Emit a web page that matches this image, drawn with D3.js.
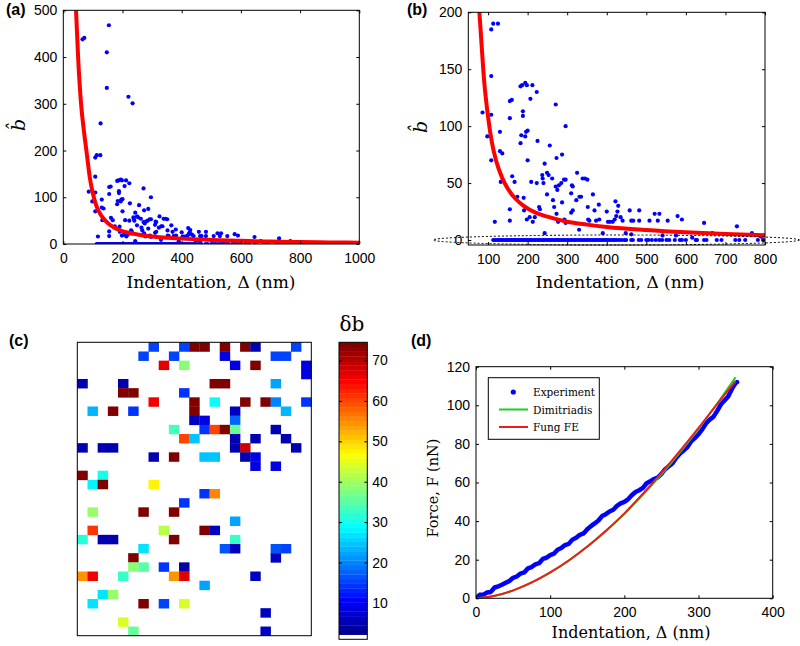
<!DOCTYPE html>
<html>
<head>
<meta charset="utf-8">
<script src="https://cdn.jsdelivr.net/npm/d3@7"></script>
<style>
body { margin: 0; background: #fff; }
svg { display: block; }
.tick text { font-family: "Liberation Sans", Arial, sans-serif; font-size: 14px; fill: #000; }
.tick line { stroke: #000; }
.lbl { font-family: "DejaVu Serif", serif; fill: #000; }
.plab { font-family: "Liberation Sans", Arial, sans-serif; font-weight: bold; font-size: 16px; }
</style>
</head>
<body>
<svg id="fig" width="800" height="646"></svg>
<script>
// ---- panels (a)/(b): b-hat vs indentation, same points, (b) is zoomed in
const bhatPoints = [
    [65,438],[71,441],[154,468],[147,410],[147,334],[126,258],[220,315],[234,301],
    [108,185],[113,190],[125,190],[108,144],[86,112],[98,91],[108,110],[108,70],
    [130,95],[130,78],[136,76],[132,51],[117,16],[155,122],[160,123],[155,107],
    [161,56],[167,51],[155,27],[155,17],[174,38],[182,135],[186,136],[188,113],
    [188,109],[184,92],[182,85],[194,138],[198,136],[196,95],[200,96],[194,91],
    [200,70],[190,37],[191,26],[198,18],[205,20],[212,136],[207,124],[223,130],
    [209,51],[223,50],[225,87],[213,16],[218,20],[229,29],[231,27],[237,57],
    [240,50],[238,54],[243,67],[253,57],[249,59],[249,40],[256,83],[262,54],
    [243,6],[271,119],[264,35],[267,29],[273,72],[271,47],[275,44],[279,48],
    [273,23],[277,16],[287,75],[285,50],[292,53],[296,53],[287,33],[296,100],
    [293,18],[296,15],[310,41],[314,47],[312,48],[310,24],[314,26],[325,59],
    [323,35],[331,38],[335,38],[330,9],[339,54],[345,54],[351,53],[352,29],
    [353,18],[356,17],[365,40],[369,26],[380,31],[381,18],[373,17],[390,6],
    [400,25],[403,16],[408,16],[415,16],[420,18],[422,34],[424,21],[427,25],
    [429,30],[435,20],[440,17],[458,26],[462,17],[467,17],[482,26],[482,17],
    [508,17],[521,23],[533,23],[529,17],[554,17],[579,21],[590,18],[646,15],
    [729,12],[667,6],[767,6],[448,6],[462,5],[541,4],[575,4],[616,2],[790,3],
    // the row of zeros
    [113,0],[118,0],[123,0],[127,0],[131,0],[135,0],[139,0],[144,0],[148,0],[152,0],
    [157,0],[160,0],[165,0],[168,0],[172,0],[176,0],[180,0],[184,0],[188,0],[192,0],
    [196,0],[200,0],[204,0],[208,0],[212,0],[217,0],[221,0],[226,0],[230,0],[235,0],
    [240,0],[244,0],[249,0],[253,0],[258,0],[262,0],[267,0],[271,0],[276,0],[280,0],
    [285,0],[290,0],[294,0],[299,0],[304,0],[309,0],[313,0],[318,0],[322,0],[327,0],
    [332,0],[336,0],[341,0],[345,0],[350,0],[355,0],[360,0],[364,0],[369,0],[374,0],
    [378,0],[383,0],[387,0],[392,0],[397,0],[401,0],[406,0],[411,0],[416,0],[420,0],
    [425,0],[431,0],[437,0],[444,0],[449,0],[462,0],[466,0],[481,0],[487,0],[500,0],
    [505,0],[514,0],[524,0],[533,0],[540,0],[551,0],[558,0],[572,0],[585,0],[590,0],
    [600,0],[625,0],[628,0],[646,0],[652,0],[678,0],[690,0],[725,0],[735,0],[750,0],
    [782,0],[795,0],[812,0],[840,0],[870,0],[905,0]
];
const fitDelta = [43,50,60,70,80,90,100,110,120,135,150,170,190,220,250,300,350,400,500,600,700,800,900,1000];
const fitBhat  = [500,400,300,240,190,140,108,85,70,55,45,36,30,24,20.5,16,13.5,11.5,8.8,6.8,5.3,4.2,3.4,2.8];
const aXTicks = [0,200,400,600,800,1000];
const aYTicks = [0,100,200,300,400,500];
const bXTicks = [100,200,300,400,500,600,700,800];
const bYTicks = [0,50,100,150,200];

// ---- panel (c): map of delta-b, [row, col, value]
const gridCols = 23, gridRows = 32;
const cells = [
    [0,7,15],[0,10,15],[0,11,74],[0,12,74],[0,14,74],[0,16,74],[0,17,5],[0,21,15],
    [1,6,15],[1,9,15],[1,14,9],[1,19,15],[1,20,15],
    [2,8,67],[2,10,38],[2,15,9],[2,17,74],[2,22,9],
    [3,22,9],
    [4,0,5],[4,4,5],[4,13,74],[4,14,74],[4,19,22],
    [5,4,74],[5,5,74],[5,10,14],
    [6,7,66],[6,11,74],[6,13,29],[6,16,74],[6,18,74],[6,19,20],[6,22,14],
    [7,1,23],[7,3,74],[7,5,14],[7,11,74],[7,15,6],[7,20,23],
    [8,11,6],[8,12,8],[8,15,18],
    [9,9,34],[9,12,14],[9,13,60],[9,14,74],[9,15,36],[9,19,5],
    [10,10,60],[10,11,25],[10,15,5],[10,17,5],[10,20,5],
    [11,0,5],[11,2,5],[11,3,5],[11,15,5],[11,16,68],[11,21,5],
    [12,7,5],[12,9,74],[12,12,24],[12,13,24],[12,16,5],[12,17,8],
    [13,17,8],[13,19,8],
    [14,0,74],[14,2,30],
    [15,1,28],[15,2,74],[15,7,47],
    [16,12,14],[16,13,55],
    [17,10,14],
    [18,1,39],[18,6,74],[18,9,74],
    [19,15,22],
    [20,1,61],[20,8,42],[20,12,74],[20,13,6],
    [21,0,32],[21,2,5],[21,3,5],[21,9,74],[21,15,33],
    [22,6,27],[22,14,16],[22,15,6],[22,19,17],[22,20,15],
    [23,5,74],[23,19,6],
    [24,5,38],[24,6,35],[24,8,14],[24,10,4],
    [25,0,54],[25,1,66],[25,4,33],[25,9,54],[25,10,67],[25,17,6],
    [26,12,22],
    [27,2,27],[27,3,39],
    [28,1,27],[28,6,74],[28,8,15],[28,10,44],
    [29,18,6],
    [30,4,44],
    [31,5,36],[31,18,6]
];
const cbTicks = [10,20,30,40,50,60,70];
const cbMin = 1, cbMax = 74.5;

// ---- panel (d): force vs indentation
const expPoints = [
    [0,0],[5,1.8],[10,1.9],[15,3.0],[20,3.3],[25,5.6],[30,6.2],[35,7.0],[40,8.0],[45,9.0],
    [50,10.6],[55,11.3],[60,12.8],[65,13.4],[70,15.5],[75,16.2],[80,17.6],[85,18.2],[90,20.4],[95,21.0],
    [100,22.4],[105,23.1],[110,25.2],[115,26.1],[120,27.6],[125,28.2],[130,30.4],[135,31.4],[140,32.9],[145,33.6],
    [150,35.8],[155,37.4],[160,38.8],[165,40.3],[170,42.6],[175,43.6],[180,45.0],[185,45.9],[190,47.9],[195,49.2],
    [200,50.0],[205,51.3],[210,53.4],[215,55.1],[220,56.0],[225,57.2],[230,59.6],[235,60.6],[240,61.8],[245,62.6],
    [250,64.5],[255,66.9],[260,68.4],[265,70.0],[270,72.8],[275,75.0],[280,76.6],[285,78.4],[290,81.3],[295,83.0],
    [300,85.0],[305,87.5],[310,90.6],[315,92.6],[320,94.0],[325,97.0],[330,100.4],[335,102.5],[340,104.6],[345,108.5],
    [350,111.5],[352,112]
];
const modelDelta  = [0,25,50,75,100,125,150,175,200,225,250,275,300,325,350];
const dimitriadis = [0,1.2,4.0,8.1,13.3,19.5,26.7,34.8,43.7,53.6,64.2,75.6,87.8,100.8,114.5];
const fungFE      = [0,1.3,4.1,8.2,13.4,19.6,26.8,35.0,44.0,54.2,65.0,76.4,88.3,100.6,112.5];
const legendNames = ['Experiment', 'Dimitriadis', 'Fung FE'];
const dXTicks = [0,100,200,300,400];
const dYTicks = [0,20,40,60,80,100,120];

const svg = d3.select('#fig');
const defs = svg.append('defs');
const plain = d3.format('d');

// box with inward ticks on all four sides (matlab look)
function drawFrame(g, x, y, xt, yt) {
    const [x0, x1] = x.range();
    const [y0, y1] = y.range();
    g.append('g').attr('transform', `translate(0,${y0})`)
        .call(d3.axisBottom(x).tickValues(xt).tickFormat(plain).tickSizeInner(-3).tickSizeOuter(0).tickPadding(9));
    g.append('g').attr('transform', `translate(0,${y1})`)
        .call(d3.axisTop(x).tickValues(xt).tickSizeInner(-3).tickSizeOuter(0).tickFormat(''));
    g.append('g').attr('transform', `translate(${x0},0)`)
        .call(d3.axisLeft(y).tickValues(yt).tickFormat(plain).tickSizeInner(-3).tickSizeOuter(0).tickPadding(6));
    g.append('g').attr('transform', `translate(${x1},0)`)
        .call(d3.axisRight(y).tickValues(yt).tickSizeInner(-3).tickSizeOuter(0).tickFormat(''));
    g.selectAll('.domain').remove();
    g.append('rect')
        .attr('x', x0).attr('y', y1)
        .attr('width', x1 - x0).attr('height', y0 - y1)
        .attr('fill', 'none').attr('stroke', '#000').attr('stroke-width', 1);
}

function clipFor(id, x, y) {
    const [x0, x1] = x.range();
    const [y0, y1] = y.range();
    defs.append('clipPath').attr('id', id).append('rect')
        .attr('x', x0).attr('y', y1).attr('width', x1 - x0).attr('height', y0 - y1);
    return `url(#${id})`;
}

function scatterPanel(x, y, xt, yt, id) {
    const g = svg.append('g');
    const clip = clipFor(id, x, y);
    const inner = g.append('g').attr('clip-path', clip);
    inner.selectAll('circle')
        .data(bhatPoints.filter(d => d[0] >= x.domain()[0] && d[0] <= x.domain()[1]))
        .enter().append('circle')
        .attr('cx', d => x(d[0]))
        .attr('cy', d => y(d[1]))
        .attr('r', 2.1)
        .attr('fill', '#0000ff');
    const line = d3.line()
        .x((d, i) => x(fitDelta[i]))
        .y(d => y(d))
        .curve(d3.curveMonotoneX);
    inner.append('path')
        .attr('d', line(fitBhat))
        .attr('fill', 'none')
        .attr('stroke', '#ff0000')
        .attr('stroke-width', 4);
    drawFrame(g, x, y, xt, yt);
    return g;
}

// panel (a)
const ax = d3.scaleLinear().domain([0, 1000]).range([63.3, 359.3]);
const ay = d3.scaleLinear().domain([0, 500]).range([244, 10.3]);
scatterPanel(ax, ay, aXTicks, aYTicks, 'clipA');

// panel (b)
const bx = d3.scaleLinear().domain([50, 800]).range([468.3, 765]);
const by = d3.scaleLinear().domain([-4.4, 200]).range([245, 12.3]);
scatterPanel(bx, by, bXTicks, bYTicks, 'clipB');

// dotted ellipse marking the zeros in (b)
svg.append('ellipse')
    .attr('cx', bx(424)).attr('cy', by(0))
    .attr('rx', bx(424) - bx(-39)).attr('ry', by(-4.4) - by(0))
    .attr('fill', 'none').attr('stroke', '#000')
    .attr('stroke-width', 1).attr('stroke-dasharray', '2,2');

// axis labels (a),(b)
[[ax, 211, 25, 125], [bx, 620, 427, 127]].forEach(([sc, xl, yx, yy]) => {
    svg.append('text').attr('class', 'lbl')
        .attr('x', xl).attr('y', 288)
        .attr('text-anchor', 'middle').attr('font-size', 17)
        .text('Indentation, \u0394 (nm)');
    svg.append('text').attr('class', 'lbl')
        .attr('transform', `translate(${yx},${yy}) rotate(-90)`)
        .attr('text-anchor', 'middle').attr('font-size', 19)
        .attr('font-style', 'italic')
        .text('b\u0302');
});

// panel (c) heat map
const cx = d3.scaleBand().domain(d3.range(gridCols)).range([77.3, 311.3]);
const cy = d3.scaleBand().domain(d3.range(gridRows)).range([342.3, 635.7]);
const jet = d3.scaleLinear()
    .domain([0, 1 / 8, 3 / 8, 5 / 8, 7 / 8, 1])
    .range(['#000080', '#0000ff', '#00ffff', '#ffff00', '#ff0000', '#800000'])
    .clamp(true);
const nLevels = 64;
const levelColor = i => i === 0 ? '#ffffff' : jet(i / (nLevels - 1));
const levelOf = v => Math.max(0, Math.min(nLevels - 1, Math.floor((v - cbMin) / (cbMax - cbMin) * nLevels)));

const gc = svg.append('g');
gc.selectAll('rect.cell')
    .data(cells)
    .enter().append('rect')
    .attr('class', 'cell')
    .attr('x', d => cx(d[1]))
    .attr('y', d => cy(d[0]))
    .attr('width', cx.bandwidth() + 0.3)
    .attr('height', cy.bandwidth() + 0.3)
    .attr('fill', d => levelColor(levelOf(d[2])));
gc.append('rect')
    .attr('x', 77.3).attr('y', 342.3)
    .attr('width', 311.3 - 77.3).attr('height', 635.7 - 342.3)
    .attr('fill', 'none').attr('stroke', '#000').attr('stroke-width', 1);

// colorbar
const cbX0 = 339, cbX1 = 367.3;
const cbY = d3.scaleLinear().domain([cbMin, cbMax]).range([639.3, 342.3]);
const step = (cbMax - cbMin) / nLevels;
const gcb = svg.append('g');
gcb.selectAll('rect.lev')
    .data(d3.range(nLevels))
    .enter().append('rect')
    .attr('class', 'lev')
    .attr('x', cbX0)
    .attr('y', i => cbY(cbMin + (i + 1) * step))
    .attr('width', cbX1 - cbX0)
    .attr('height', i => cbY(cbMin + i * step) - cbY(cbMin + (i + 1) * step) + 0.3)
    .attr('fill', levelColor);
gcb.append('g').attr('transform', `translate(${cbX1},0)`)
    .call(d3.axisRight(cbY).tickValues(cbTicks).tickSizeInner(-3).tickSizeOuter(0).tickPadding(5));
gcb.append('g').attr('transform', `translate(${cbX0},0)`)
    .call(d3.axisLeft(cbY).tickValues(cbTicks).tickSizeInner(-3).tickSizeOuter(0).tickFormat(''));
gcb.selectAll('.domain').remove();
gcb.append('rect')
    .attr('x', cbX0).attr('y', 342.3)
    .attr('width', cbX1 - cbX0).attr('height', 639.3 - 342.3)
    .attr('fill', 'none').attr('stroke', '#000').attr('stroke-width', 1);
svg.append('text').attr('class', 'lbl')
    .attr('x', 352).attr('y', 331)
    .attr('text-anchor', 'middle').attr('font-size', 20)
    .text('\u03b4b');

// panel (d)
const dx = d3.scaleLinear().domain([0, 400]).range([476, 772.7]);
const dy = d3.scaleLinear().domain([0, 120]).range([598.3, 366.7]);
const gd = svg.append('g');
const dclip = clipFor('clipD', dx, dy);
const dInner = gd.append('g').attr('clip-path', dclip);
dInner.append('path')
    .attr('d', d3.line().x(d => dx(d[0])).y(d => dy(d[1]))(expPoints))
    .attr('fill', 'none').attr('stroke', '#0000ff')
    .attr('stroke-width', 4.5).attr('stroke-linejoin', 'round').attr('stroke-linecap', 'round');
const modelLine = d3.line()
    .x((d, i) => dx(modelDelta[i]))
    .y(d => dy(d))
    .curve(d3.curveMonotoneX);
dInner.append('path').attr('d', modelLine(dimitriadis))
    .attr('fill', 'none').attr('stroke', '#22cc22').attr('stroke-width', 2);
dInner.append('path').attr('d', modelLine(fungFE))
    .attr('fill', 'none').attr('stroke', '#ee1c1c').attr('stroke-width', 2);
drawFrame(gd, dx, dy, dXTicks, dYTicks);

// legend
const leg = gd.append('g');
leg.append('rect')
    .attr('x', 488.3).attr('y', 377.7).attr('width', 111).attr('height', 61.6)
    .attr('fill', '#fff').attr('stroke', '#000').attr('stroke-width', 1);
const legColors = ['#0000ff', '#22cc22', '#ee1c1c'];
const legY = d3.scalePoint().domain(legendNames).range([392, 427]);
legendNames.forEach((name, i) => {
    const yy = legY(name);
    if (i === 0) {
        leg.append('circle').attr('cx', 513.3).attr('cy', yy).attr('r', 2.6).attr('fill', legColors[i]);
    } else {
        leg.append('line').attr('x1', 499).attr('x2', 528).attr('y1', yy).attr('y2', yy)
            .attr('stroke', legColors[i]).attr('stroke-width', 2);
    }
    leg.append('text').attr('class', 'lbl')
        .attr('x', 533).attr('y', yy + 4)
        .attr('font-size', 10.5)
        .text(name);
});

svg.append('text').attr('class', 'lbl')
    .attr('x', 631).attr('y', 638)
    .attr('text-anchor', 'middle').attr('font-size', 16)
    .text('Indentation, \u0394 (nm)');
svg.append('text').attr('class', 'lbl')
    .attr('transform', 'translate(438,488) rotate(-90)')
    .attr('text-anchor', 'middle').attr('font-size', 14.5)
    .text('Force, F (nN)');

// panel letters
[['(a)', 6, 15], ['(b)', 407, 15], ['(c)', 9, 346], ['(d)', 411, 346]].forEach(([t, x, y]) => {
    svg.append('text').attr('class', 'plab').attr('x', x).attr('y', y).text(t);
});
</script>
</body>
</html>
